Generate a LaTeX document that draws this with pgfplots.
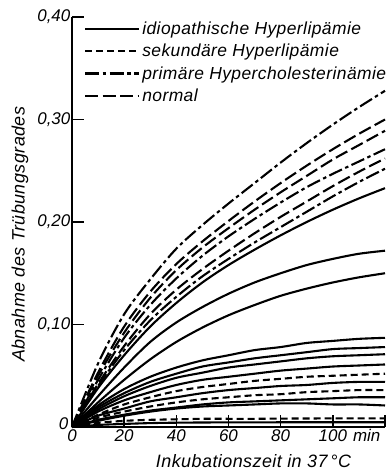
\documentclass[border=0pt]{standalone}
\usepackage{fontspec}
\setmainfont{Liberation Sans}
\newfontfamily\lfont{Liberation Sans}[LetterSpace=2.5]
\usepackage{pgfplots}
\pgfplotsset{compat=1.18}
\tikzset{
  idio/.style={solid},
  sek/.style={dash pattern=on 7bp off 4bp},
  prim/.style={dash pattern=on 14bp off 3.5bp on 3.5bp off 3.5bp},
  norm/.style={dash pattern=on 13bp off 4.5bp},
  cv/.style={black, line width=2.1bp, smooth, no markers},
}
\begin{document}
\begin{tikzpicture}
\begin{axis}[
  scale only axis, width=313bp, height=410bp,
  xmin=0, xmax=120, ymin=0, ymax=0.4,
  axis lines=left, axis line style={-, line width=1.5bp, black},
  tick align=inside, major tick length=12bp,
  tick style={line width=1.4bp, black},
  xtick={0,20,40,60,80,100,120}, xticklabels={0,20,40,60,80,100,{}},
  ytick={0,0.1,0.2,0.3,0.4}, yticklabels={\raisebox{6bp}{0\hspace{2bp}},{0,10},{0,20},{0,30},{0,40}},
  ticklabel style={font=\fontsize{17}{20}\selectfont\itshape},
  yticklabel style={inner sep=1.5bp},
  xticklabel style={inner sep=2.5bp},
  xlabel={Inkubationszeit in 37\,°C},
  ylabel={Abnahme des Trübungsgrades},
  label style={font=\lfont\fontsize{18}{22}\selectfont\itshape},
  xlabel style={at={(axis description cs:0.58,-0.083)}, anchor=center},
  ylabel style={at={(axis description cs:-0.166,0.47)}, anchor=center},
  clip=false,
  legend style={draw=none, fill=none, at={(axis description cs:0,1)}, anchor=north west,
    xshift=12bp, yshift=-3bp, font=\lfont\fontsize{17.5}{21}\selectfont\itshape, row sep=4bp,
    inner sep=0pt, /tikz/every even column/.append style={column sep=2bp}},
  legend cell align=left,
  legend image code/.code={\draw[#1, line width=2.1bp] (0bp,0bp) -- (54bp,0bp);},
]
\addlegendimage{idio}\addlegendentry{idiopathische Hyperlipämie}
\addlegendimage{sek}\addlegendentry{sekundäre Hyperlipämie}
\addlegendimage{prim}\addlegendentry{primäre Hypercholesterinämie}
\addlegendimage{norm}\addlegendentry{normal}

% upper group
\addplot[cv, prim, forget plot] coordinates {(0,0)(10,0.062)(20,0.110)(30,0.144)(40,0.174)(50,0.197)(60,0.218)(70,0.238)(80,0.258)(90,0.277)(100,0.295)(110,0.312)(120,0.328)};
\addplot[cv, norm, forget plot] coordinates {(0,0)(10,0.053)(20,0.098)(30,0.132)(40,0.159)(50,0.181)(60,0.201)(70,0.220)(80,0.238)(90,0.255)(100,0.271)(110,0.286)(120,0.300)};
\addplot[cv, norm, forget plot] coordinates {(0,0)(10,0.050)(20,0.092)(30,0.126)(40,0.153)(50,0.175)(60,0.194)(70,0.212)(80,0.229)(90,0.245)(100,0.261)(110,0.275)(120,0.289)};
\addplot[cv, prim, forget plot] coordinates {(0,0)(10,0.046)(20,0.087)(30,0.119)(40,0.145)(50,0.167)(60,0.186)(70,0.203)(80,0.219)(90,0.234)(100,0.247)(110,0.259)(120,0.271)};
\addplot[cv, norm, forget plot] coordinates {(0,0)(10,0.042)(20,0.079)(30,0.110)(40,0.134)(50,0.154)(60,0.172)(70,0.189)(80,0.205)(90,0.220)(100,0.235)(110,0.249)(120,0.262)};
\addplot[cv, prim, forget plot] coordinates {(0,0)(10,0.040)(20,0.075)(30,0.104)(40,0.127)(50,0.147)(60,0.164)(70,0.180)(80,0.195)(90,0.210)(100,0.225)(110,0.239)(120,0.252)};
\addplot[cv, idio, forget plot] coordinates {(0,0)(10,0.038)(20,0.070)(30,0.098)(40,0.121)(50,0.141)(60,0.158)(70,0.173)(80,0.187)(90,0.200)(100,0.212)(110,0.223)(120,0.233)};
% middle solids
\addplot[cv, idio, forget plot] coordinates {(0,0)(10,0.030)(20,0.058)(30,0.083)(40,0.102)(50,0.117)(60,0.130)(70,0.141)(80,0.150)(90,0.158)(100,0.164)(110,0.169)(120,0.172)};
\addplot[cv, idio, forget plot] coordinates {(0,0)(10,0.024)(20,0.046)(30,0.066)(40,0.083)(50,0.097)(60,0.109)(70,0.119)(80,0.128)(90,0.135)(100,0.141)(110,0.146)(120,0.150)};
% lower group
\addplot[cv, idio, forget plot] coordinates {(0,0)(10,0.021)(20,0.037)(30,0.049)(40,0.058)(50,0.065)(60,0.070)(70,0.075)(80,0.078)(90,0.082)(100,0.084)(110,0.086)(120,0.087)};
\addplot[cv, idio, forget plot] coordinates {(0,0)(10,0.019)(20,0.033)(30,0.044)(40,0.052)(50,0.059)(60,0.063)(70,0.067)(80,0.070)(90,0.073)(100,0.076)(110,0.077)(120,0.078)};
\addplot[cv, idio, forget plot] coordinates {(0,0)(10,0.017)(20,0.030)(30,0.040)(40,0.048)(50,0.053)(60,0.058)(70,0.061)(80,0.064)(90,0.067)(100,0.069)(110,0.070)(120,0.071)};
\addplot[cv, idio, forget plot] coordinates {(0,0)(10,0.015)(20,0.026)(30,0.034)(40,0.041)(50,0.046)(60,0.049)(70,0.052)(80,0.055)(90,0.057)(100,0.059)(110,0.060)(120,0.061)};
\addplot[cv, sek, forget plot] coordinates {(0,0)(10,0.012)(20,0.022)(30,0.029)(40,0.035)(50,0.039)(60,0.042)(70,0.045)(80,0.047)(90,0.049)(100,0.050)(110,0.051)(120,0.052)};
\addplot[cv, idio, forget plot] coordinates {(0,0)(10,0.011)(20,0.018)(30,0.025)(40,0.029)(50,0.033)(60,0.036)(70,0.038)(80,0.040)(90,0.041)(100,0.043)(110,0.044)(120,0.044)};
\addplot[cv, sek, forget plot] coordinates {(0,0)(10,0.009)(20,0.015)(30,0.020)(40,0.024)(50,0.027)(60,0.029)(70,0.031)(80,0.032)(90,0.034)(100,0.035)(110,0.036)(120,0.036)};
\addplot[cv, idio, forget plot] coordinates {(0,0)(10,0.007)(20,0.012)(30,0.016)(40,0.019)(50,0.022)(60,0.024)(70,0.025)(80,0.026)(90,0.027)(100,0.028)(110,0.029)(120,0.029)};
\addplot[cv, idio, forget plot] coordinates {(0,0)(10,0.006)(20,0.011)(30,0.015)(40,0.018)(50,0.020)(60,0.021)(70,0.022)(80,0.023)(90,0.023)(100,0.022)(110,0.022)(120,0.021)};
\addplot[cv, sek, forget plot] coordinates {(0,0)(10,0.004)(20,0.006)(30,0.007)(40,0.0075)(50,0.008)(60,0.008)(70,0.008)(80,0.0082)(90,0.0083)(100,0.0084)(110,0.0084)(120,0.0084)};
\addplot[cv, idio, forget plot] coordinates {(0,0)(10,0.002)(20,0.003)(30,0.0038)(40,0.0042)(50,0.0044)(60,0.0045)(70,0.0045)(80,0.0046)(90,0.0046)(100,0.0046)(110,0.0046)(120,0.0046)};

\node[font=\fontsize{17}{20}\selectfont\itshape, anchor=north, inner sep=2.5bp] at (axis cs:113,0) {min};
\end{axis}
\pgfresetboundingbox
\path ([shift={(-72bp,-48bp)}]current axis.south west) rectangle ([shift={(2bp,17bp)}]current axis.north east);
\end{tikzpicture}
\end{document}
